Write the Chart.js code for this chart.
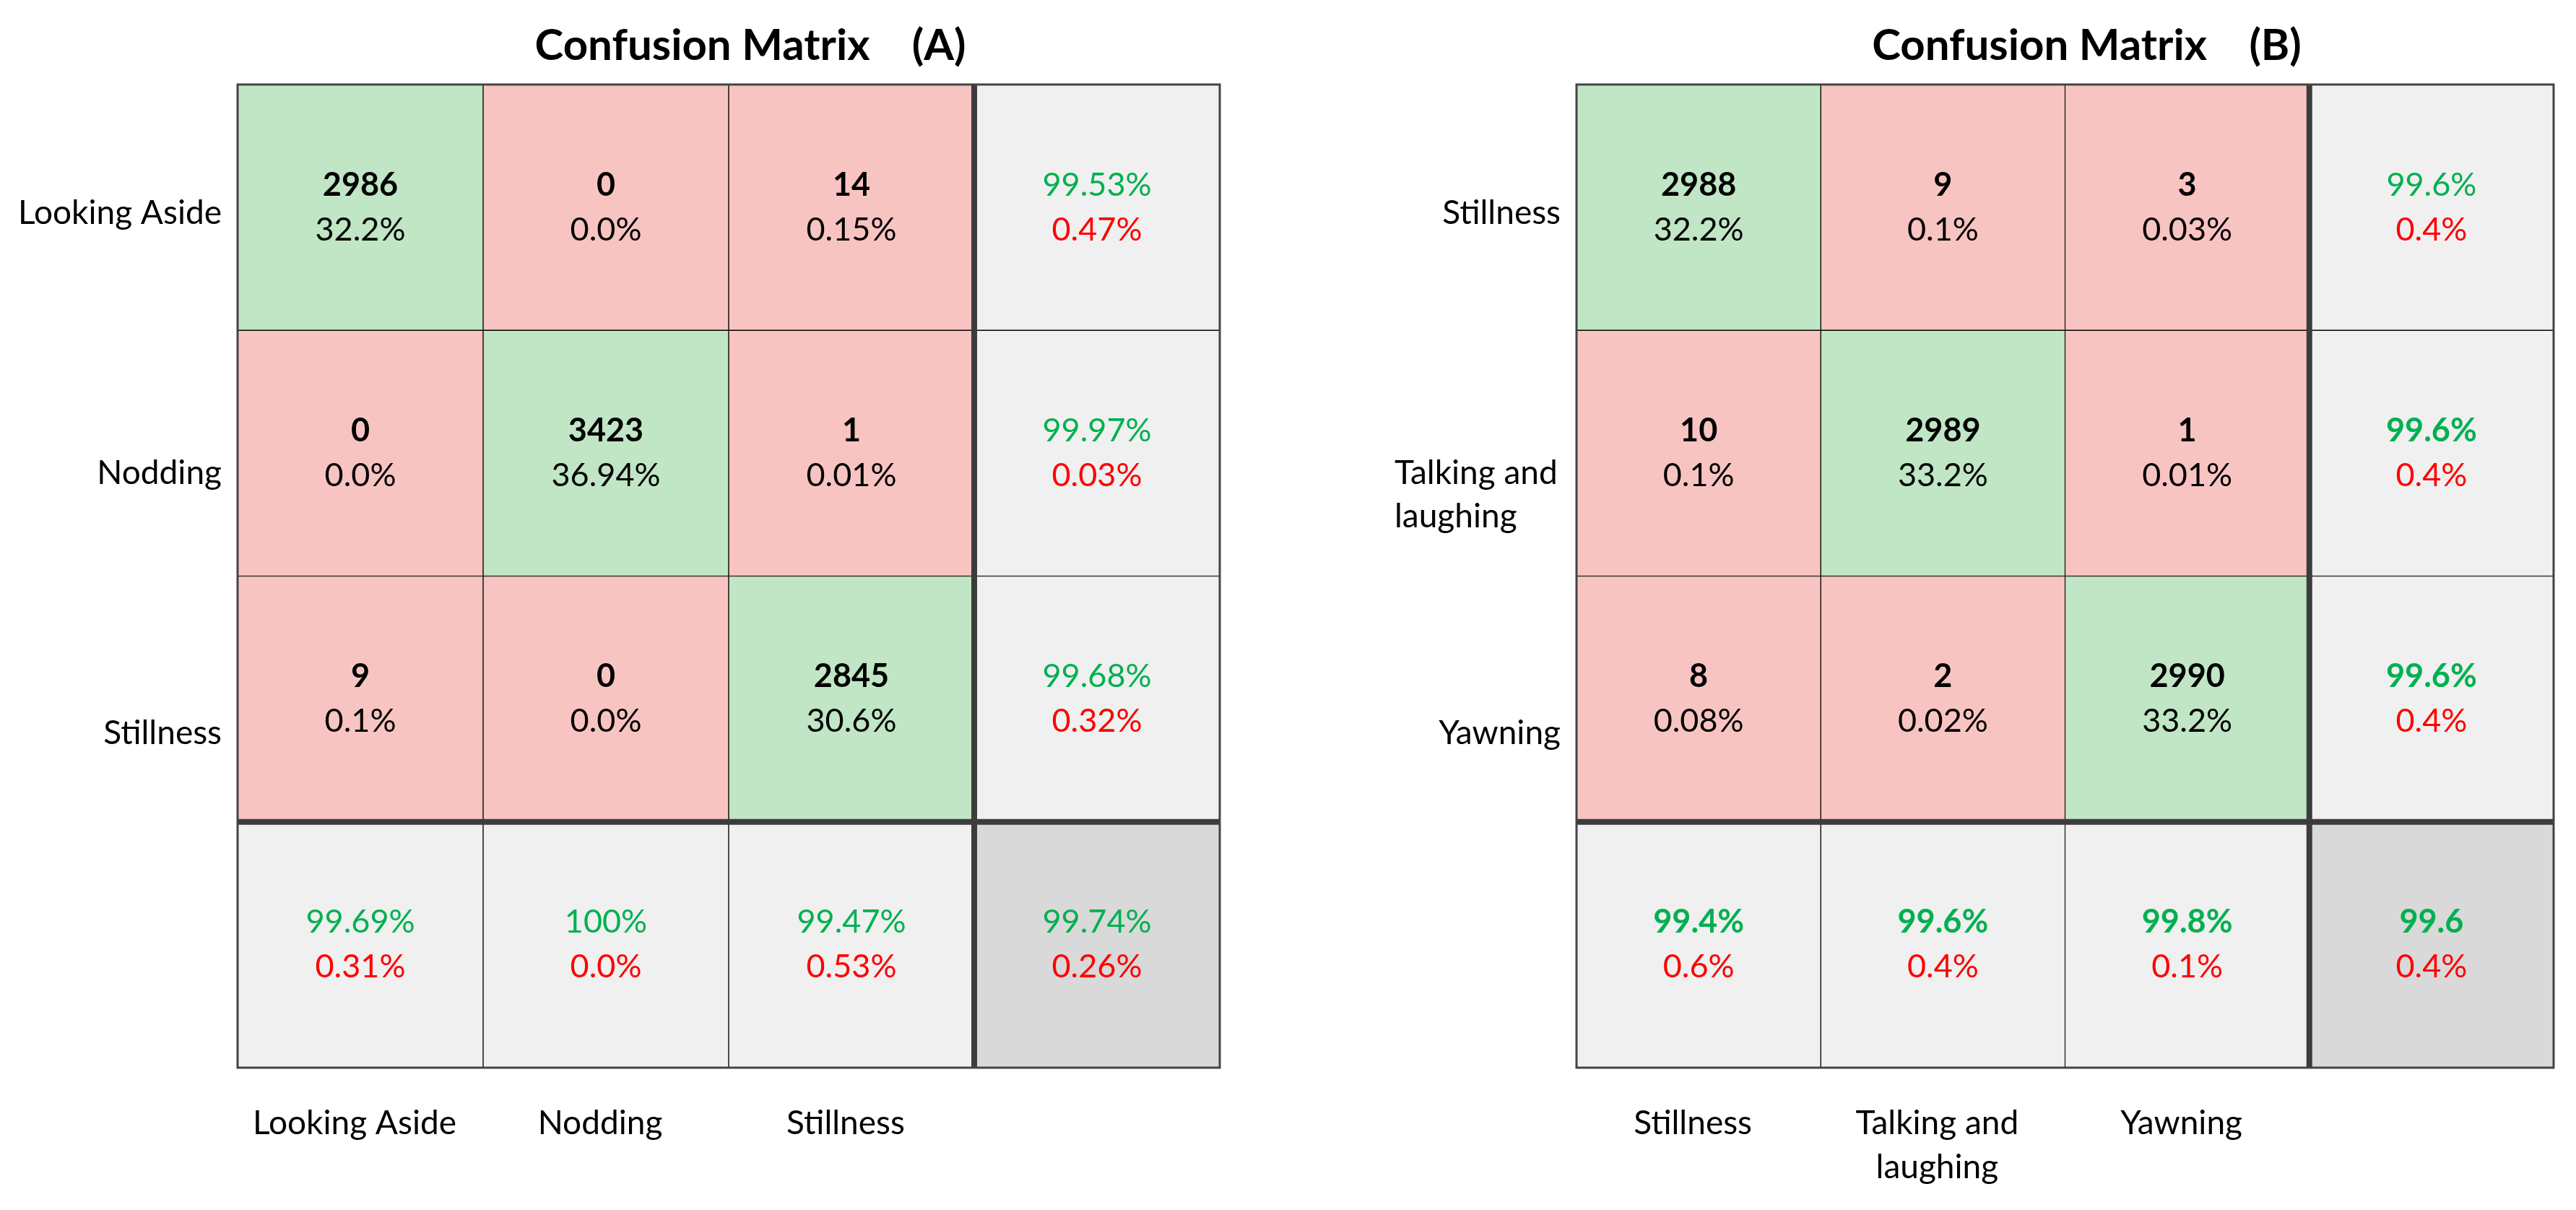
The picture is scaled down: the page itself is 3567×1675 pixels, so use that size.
<!DOCTYPE html>
<html>
<head>
<meta charset="utf-8">
<title>Confusion Matrix</title>
<script src="https://cdn.jsdelivr.net/npm/chart.js@4"></script>
<style>
	body { margin: 0; background: #fff; }
	#wrap { position: relative; width: 3567px; height: 1675px; }
	canvas { position: absolute; top: 0; }
	#chart-a { left: 0; }
	#chart-b { left: 1780px; }
</style>
</head>
<body>
<div id="wrap">
	<canvas id="chart-a" width="1780" height="1675"></canvas>
	<canvas id="chart-b" width="1787" height="1675"></canvas>
</div>
<script>
/*
 * Matrix (A): counts and shares per cell, then the right column (per
 * row) and bottom row (per column) summaries, then the overall corner.
 */
const labelsA = ['Looking Aside', 'Nodding', 'Stillness'];
const countsA = [
	[2986, 0, 14],
	[0, 3423, 1],
	[9, 0, 2845],
];
const sharesA = [
	['32.2%', '0.0%', '0.15%'],
	['0.0%', '36.94%', '0.01%'],
	['0.1%', '0.0%', '30.6%'],
];
const rowGoodA = ['99.53%', '99.97%', '99.68%'];
const rowBadA = ['0.47%', '0.03%', '0.32%'];
const colGoodA = ['99.69%', '100%', '99.47%'];
const colBadA = ['0.31%', '0.0%', '0.53%'];
const totalA = ['99.74%', '0.26%'];

/* Matrix (B). */
const labelsB = ['Stillness', ['Talking and', 'laughing'], 'Yawning'];
const countsB = [
	[2988, 9, 3],
	[10, 2989, 1],
	[8, 2, 2990],
];
const sharesB = [
	['32.2%', '0.1%', '0.03%'],
	['0.1%', '33.2%', '0.01%'],
	['0.08%', '0.02%', '33.2%'],
];
const rowGoodB = ['99.6%', '99.6%', '99.6%'];
const rowBadB = ['0.4%', '0.4%', '0.4%'];
const colGoodB = ['99.4%', '99.6%', '99.8%'];
const colBadB = ['0.6%', '0.4%', '0.1%'];
const totalB = ['99.6', '0.4%'];

const FONT = 'Lato, "Open Sans", sans-serif';
const GREEN_CELL = '#c0e6c5';
const RED_CELL = '#f8c4c1';
const SUM_CELL = '#f0f0f0';
const TOTAL_CELL = '#d9d9d9';
const GREEN_TEXT = '#00b050';
const RED_TEXT = '#ff0000';

function cellColour(row, col, n)
{
	if (row === n && col === n)
		return TOTAL_CELL;
	if (row === n || col === n)
		return SUM_CELL;
	return row === col ? GREEN_CELL : RED_CELL;
}

/*
 * Text of one cell as a list of [text, colour, bold] lines.
 */
function cellLines(m, row, col)
{
	const n = m.labels.length;
	if (row < n && col < n)
		return [
			[String(m.counts[row][col]), '#000', true],
			[m.shares[row][col], '#000', false],
		];
	if (row === n && col === n)
		return [
			[m.total[0], GREEN_TEXT, m.boldTotal],
			[m.total[1], RED_TEXT, false],
		];
	if (col === n)
		return [
			[m.rowGood[row], GREEN_TEXT, m.boldRow[row]],
			[m.rowBad[row], RED_TEXT, false],
		];
	return [
		[m.colGood[col], GREEN_TEXT, m.boldCol],
		[m.colBad[col], RED_TEXT, false],
	];
}

const matrixText = {
	id: 'matrixText',
	afterDatasetsDraw(chart, args, opts) {
		const m = opts.matrix;
		const n = m.labels.length;
		const ctx = chart.ctx;
		const area = chart.chartArea;
		const xs = chart.scales.x;
		const ys = chart.scales.y;

		ctx.save();

		/* Heavy separators before the summary row and column. */

		ctx.strokeStyle = '#3c3c3c';
		ctx.lineWidth = 8;
		const sepX = (xs.getPixelForValue(n - 1) + xs.getPixelForValue(n)) / 2;
		const sepY = ys.getPixelForValue(n);
		ctx.beginPath();
		ctx.moveTo(sepX, area.top);
		ctx.lineTo(sepX, area.bottom);
		ctx.moveTo(area.left, sepY);
		ctx.lineTo(area.right, sepY);
		ctx.stroke();

		/* Outer frame. */

		ctx.strokeStyle = '#444';
		ctx.lineWidth = 3;
		ctx.strokeRect(area.left, area.top,
			area.right - area.left, area.bottom - area.top);

		/* Cell texts. */

		ctx.textAlign = 'center';
		ctx.textBaseline = 'middle';
		for (let row = 0; row <= n; row++) {
			const meta = chart.getDatasetMeta(row);
			for (let col = 0; col <= n; col++) {
				const pt = meta.data[col].getCenterPoint();
				const lines = cellLines(m, row, col);
				lines.forEach((line, i) => {
					ctx.font = (line[2] ? 'bold ' : '') + '45px ' + FONT;
					ctx.fillStyle = line[1];
					ctx.fillText(line[0], pt.x, pt.y + (i - 0.5) * 62);
				});
			}
		}

		/* Row labels (left) and column labels (below). */

		ctx.fillStyle = '#000';
		ctx.font = '46px ' + FONT;
		m.labels.forEach((label, row) => {
			const parts = [].concat(label);
			const y = ys.getPixelForValue(row + 0.5) + 8 + 20 * row;
			parts.forEach((p, i) => {
				ctx.textAlign = parts.length > 1 ? 'left' : 'right';
				const x = parts.length > 1 ? area.left - 252 : area.left - 22;
				ctx.fillText(p, x, y + i * 60);
			});
		});
		ctx.textAlign = 'center';
		m.labels.forEach((label, col) => {
			const parts = [].concat(label);
			const x = xs.getPixelForValue(col) - 8;
			parts.forEach((p, i) => {
				ctx.fillText(p, x, area.bottom + 77 + i * 61);
			});
		});

		/* Title. */

		ctx.font = 'bold 60px ' + FONT;
		ctx.fillText(m.title, (area.left + area.right) / 2 + 30, 64);

		ctx.restore();
	}
};

function drawMatrix(id, m, padding)
{
	const n = m.labels.length;
	const datasets = [];
	for (let row = 0; row <= n; row++) {
		datasets.push({
			label: row < n ? [].concat(m.labels[row]).join(' ') : 'total',
			data: new Array(n + 1).fill(1),
			backgroundColor: (c) => cellColour(row, c.dataIndex, n),
			borderColor: '#000',
			borderWidth: 1,
			borderSkipped: false,
			barPercentage: 1,
			categoryPercentage: 1,
		});
	}
	const cols = m.labels.map(l => [].concat(l).join(' ')).concat(['']);

	new Chart(document.getElementById(id), {
		type: 'bar',
		data: {
			labels: cols,
			datasets: datasets,
		},
		plugins: [matrixText],
		options: {
			responsive: false,
			animation: false,
			layout: {
				padding: padding,
			},
			plugins: {
				legend: { display: false },
				tooltip: { enabled: false },
				matrixText: { matrix: m },
			},
			scales: {
				x: {
					display: false,
					stacked: true,
					offset: true,
				},
				y: {
					display: false,
					stacked: true,
					reverse: true,
					min: 0,
					max: n + 1,
				},
			},
		},
	});
}

window.addEventListener('load', () => {
	drawMatrix('chart-a', {
		title: 'Confusion Matrix    (A)',
		labels: labelsA,
		counts: countsA,
		shares: sharesA,
		rowGood: rowGoodA,
		rowBad: rowBadA,
		colGood: colGoodA,
		colBad: colBadA,
		total: totalA,
		boldRow: [false, false, false],
		boldCol: false,
		boldTotal: false,
	}, { left: 329, right: 91, top: 117, bottom: 197 });

	drawMatrix('chart-b', {
		title: 'Confusion Matrix    (B)',
		labels: labelsB,
		counts: countsB,
		shares: sharesB,
		rowGood: rowGoodB,
		rowBad: rowBadB,
		colGood: colGoodB,
		colBad: colBadB,
		total: totalB,
		boldRow: [false, true, true],
		boldCol: true,
		boldTotal: true,
	}, { left: 403, right: 31, top: 117, bottom: 197 });
});
</script>
</body>
</html>
